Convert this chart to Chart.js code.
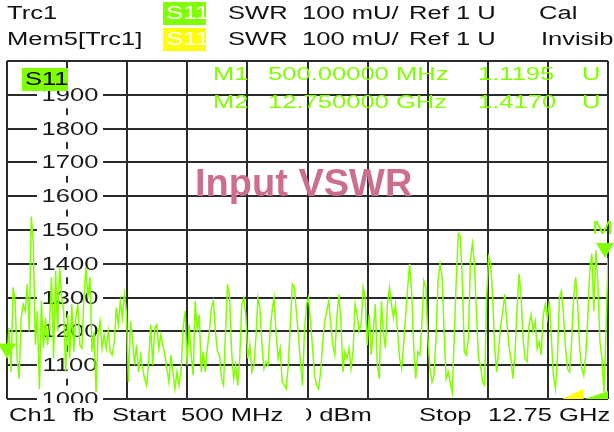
<!DOCTYPE html>
<html>
<head>
<meta charset="utf-8">
<script src="https://cdn.jsdelivr.net/npm/chart.js@4.4.1/dist/chart.umd.min.js"></script>
<style>
  body { margin: 0; background: #fff; }
  #c { display: block; }
</style>
</head>
<body>
<canvas id="c" width="614" height="432"></canvas>
<script>
// sweep: 500 MHz .. 12.75 GHz, values in mU (SWR)
var fStart = 500;
var fStop = 12750;

var traceValues = [
    1120,1210,1080,1330,1290,1120,1060,1240,1280,1260,
    1340,1200,1540,1460,1160,1260,1030,1290,1150,1240,
    1160,1220,1360,1120,1380,1200,1390,1300,1260,1080,
    1250,1120,1280,1140,1240,1280,1160,1150,1300,1390,
    1300,1360,1140,1200,1020,1190,1230,1150,1190,1150,
    1200,1140,1130,1170,1270,1220,1290,1240,1310,1260,
    1050,1230,1180,1100,1160,1080,1130,1090,1060,1040,
    1110,1220,1100,1210,1220,1150,1190,1160,1130,1090,
    1050,1130,1080,1030,1080,1040,1080,1210,1260,1100,
    1220,1130,1070,1290,1200,1250,1080,
    1140,1080,1150,1200,1270,1290,1200,1140,1130,1060,
    1040,1200,1340,1300,1140,1060,1100,1040,1120,1280,
    1300,1250,1120,1160,1080,1100,1180,1300,1270,1160,
    1090,1110,1100,1200,1260,1300,1190,1120,1150,1050,
    1040,1030,1100,1220,1340,1330,1260,1190,1110,
    1040,1200,1280,1300,1230,1150,1070,1040,1030,1080,
    1170,1230,1260,1290,1220,1160,1130,1240,1310,1230,
    1080,1140,1120,1150,1090,1140,1280,1250,1200,1220,
    1330,1300,1160,1250,1130,1200,1280,1100,1060,1290,
    1200,1150,1280,1330,1280,1240,1280,1200,1120,
    1090,1160,1250,1330,1400,1310,1150,1060,1140,1130,
    1220,1350,1330,1180,1090,1050,1070,1180,1350,1400,
    1360,1200,1060,1080,1050,1020,1180,1350,1490,1480,
    1350,1140,1130,1180,1410,1460,1400,1250,1120,1100,
    1050,1040,1300,1420,1400,1300,1150,1080,
    1150,1220,1260,1310,1230,1160,1120,1060,1130,1260,
    1370,1310,1180,1120,1110,1220,1250,1200,1230,1150,
    1170,1130,1250,1280,1240,1290,1180,1070,1030,1120,
    1300,1320,1250,1150,1090,1080,1170,1300,1360,1280,
    1150,1090,1070,1130,1240,1380,1430,1260,1440,1340,
    1170,1120,1020,1200,1417
];

// memory trace bits that peek above the bottom line
var memFreq = [11500, 11812, 12240, 12245];
var memValues = [960, 998, 1028, 950];
var holdFreq = [12200, 12281, 12750];
var holdValues = [960, 999, 1022];

var yTickLabels = ['1000','1100','1200','1300','1400','1500','1600','1700','1800','1900'];

var markerNames = ['M1', 'M2'];
var markerStim = ['500.00000 MHz', '12.750000 GHz'];
var markerFreq = [500, 12750];
var markerValues = [1119.5, 1417.0];

var GREEN = '#80ff00';
var GRID = '#2b2b2b';
var FONT = '"Liberation Sans", Arial, sans-serif';
var SX = 1.42;     // the screen font is wide

function txt(ctx, s, x, y, color, size, align)
{
    ctx.save();
    ctx.font = (size || 18) + 'px ' + FONT;
    ctx.fillStyle = color;
    ctx.textAlign = align || 'left';
    ctx.textBaseline = 'middle';
    ctx.translate(x, y);
    ctx.scale(SX, 1);
    ctx.fillText(s, 0, 0);
    ctx.restore();
}

var traceData = traceValues.map(function(v, i) {
    return { x: fStart + i * (fStop - fStart) / (traceValues.length - 1), y: v };
});

var vnaDecor = {
    id: 'vnaDecor',
    beforeDatasetsDraw: function(chart) {
        var ctx = chart.ctx;
        var ys = chart.scales.y;
        ctx.save();
        ctx.beginPath();
        ctx.rect(0, 0, 614, 403);
        ctx.clip();
        yTickLabels.forEach(function(l) {
            var y = ys.getPixelForValue(Number(l));
            ctx.fillStyle = '#fff';
            ctx.fillRect(37, y - 13.5, 66, 27);
            txt(ctx, l, 70, y + 1, '#1a1a1a', 18, 'center');
        });
        ctx.restore();

        // S11 tag in the diagram
        ctx.fillStyle = GREEN;
        ctx.fillRect(22, 68, 46, 23);
        txt(ctx, 'S11', 25, 80, '#000', 18);

        // marker readout (values shown in U)
        markerNames.forEach(function(m, i) {
            var y = 75 + i * 28;
            txt(ctx, m, 213, y, GREEN, 18);
            txt(ctx, markerStim[i], 268, y, GREEN, 18);
            txt(ctx, (markerValues[i] / 1000).toFixed(4), 478, y, GREEN, 18);
            txt(ctx, 'U', 582, y, GREEN, 18);
        });

        ctx.save();
        ctx.font = 'bold 38px ' + FONT;
        ctx.fillStyle = '#cc6f8f';
        ctx.textBaseline = 'middle';
        ctx.fillText('Input VSWR', 195, 186);
        ctx.restore();
    },
    afterDatasetsDraw: function(chart) {
        var ctx = chart.ctx;
        var xs = chart.scales.x, ys = chart.scales.y;
        markerFreq.forEach(function(f, i) {
            var px = xs.getPixelForValue(f);
            var py = ys.getPixelForValue(markerValues[i]);
            if (i == 1) px -= 3;
            ctx.fillStyle = GREEN;
            ctx.beginPath();
            ctx.moveTo(px - 9, py - 15);
            ctx.lineTo(px + 9, py - 15);
            ctx.lineTo(px, py);
            ctx.closePath();
            ctx.fill();
        });
        txt(ctx, 'M2', 592, 229, GREEN, 18);
    },
    afterDraw: function(chart) {
        var ctx = chart.ctx;
        // header
        txt(ctx, 'Trc1', 7, 14, '#111');
        ctx.fillStyle = GREEN;
        ctx.fillRect(163, 2, 43, 23);
        txt(ctx, 'S11', 166, 14, '#fff');
        txt(ctx, 'SWR', 228, 14, '#111');
        txt(ctx, '100 mU/', 302, 14, '#111');
        txt(ctx, 'Ref 1 U', 409, 14, '#111');
        txt(ctx, 'Cal', 539, 14, '#111');

        txt(ctx, 'Mem5[Trc1]', 7, 40, '#111');
        ctx.fillStyle = '#ffff00';
        ctx.fillRect(163, 28, 43, 23);
        txt(ctx, 'S11', 166, 40, '#fff');
        txt(ctx, 'SWR', 228, 40, '#111');
        txt(ctx, '100 mU/', 302, 40, '#111');
        txt(ctx, 'Ref 1 U', 409, 40, '#111');
        txt(ctx, 'Invisib', 541, 40, '#111');

        // footer
        txt(ctx, 'Ch1', 9, 416, '#111');
        txt(ctx, 'fb', 73, 416, '#111');
        txt(ctx, 'Start', 112, 416, '#111');
        txt(ctx, '500 MHz', 181, 416, '#111');
        ctx.save();
        ctx.beginPath();
        ctx.rect(306, 403, 120, 29);
        ctx.clip();
        txt(ctx, '0 dBm', 298, 416, '#111');
        ctx.restore();
        txt(ctx, 'Stop', 419, 416, '#111');
        txt(ctx, '12.75 GHz', 488, 416, '#111');
    }
};

var xGrid = [];
for (var i = 0; i <= 10; i++)
    xGrid.push(fStart + i * (fStop - fStart) / 10);

var chart = new Chart(document.getElementById('c'), {
    type: 'line',
    data: {
        datasets: [
            {
                data: memFreq.map(function(f, i) { return { x: f, y: memValues[i] }; }),
                borderColor: '#ffff00',
                backgroundColor: '#ffff00',
                borderWidth: 1,
                pointRadius: 0,
                fill: 'start'
            },
            {
                data: holdFreq.map(function(f, i) { return { x: f, y: holdValues[i] }; }),
                borderColor: GREEN,
                backgroundColor: GREEN,
                borderWidth: 1,
                pointRadius: 0,
                fill: 'start'
            },
            {
                data: traceData,
                borderColor: GREEN,
                borderWidth: 1.5,
                pointRadius: 0,
                tension: 0,
                fill: false
            }
        ]
    },
    options: {
        responsive: false,
        devicePixelRatio: 1,
        animation: false,
        layout: { padding: { left: 7, right: 6, top: 61, bottom: 33 } },
        plugins: { legend: { display: false }, tooltip: { enabled: false } },
        scales: {
            x: {
                type: 'linear',
                min: fStart,
                max: fStop,
                afterBuildTicks: function(s) { s.ticks = xGrid.map(function(v) { return { value: v }; }); },
                afterFit: function(s) { s.height = 0; },
                ticks: { display: false },
                grid: { color: GRID, lineWidth: 2, drawTicks: false },
                border: { display: false }
            },
            y: {
                min: 1000,
                max: 2000,
                afterFit: function(s) { s.width = 0; },
                ticks: { display: false, stepSize: 100 },
                grid: { color: GRID, lineWidth: 2, drawTicks: false },
                border: { display: false }
            }
        }
    },
    plugins: [vnaDecor]
});
</script>
</body>
</html>
